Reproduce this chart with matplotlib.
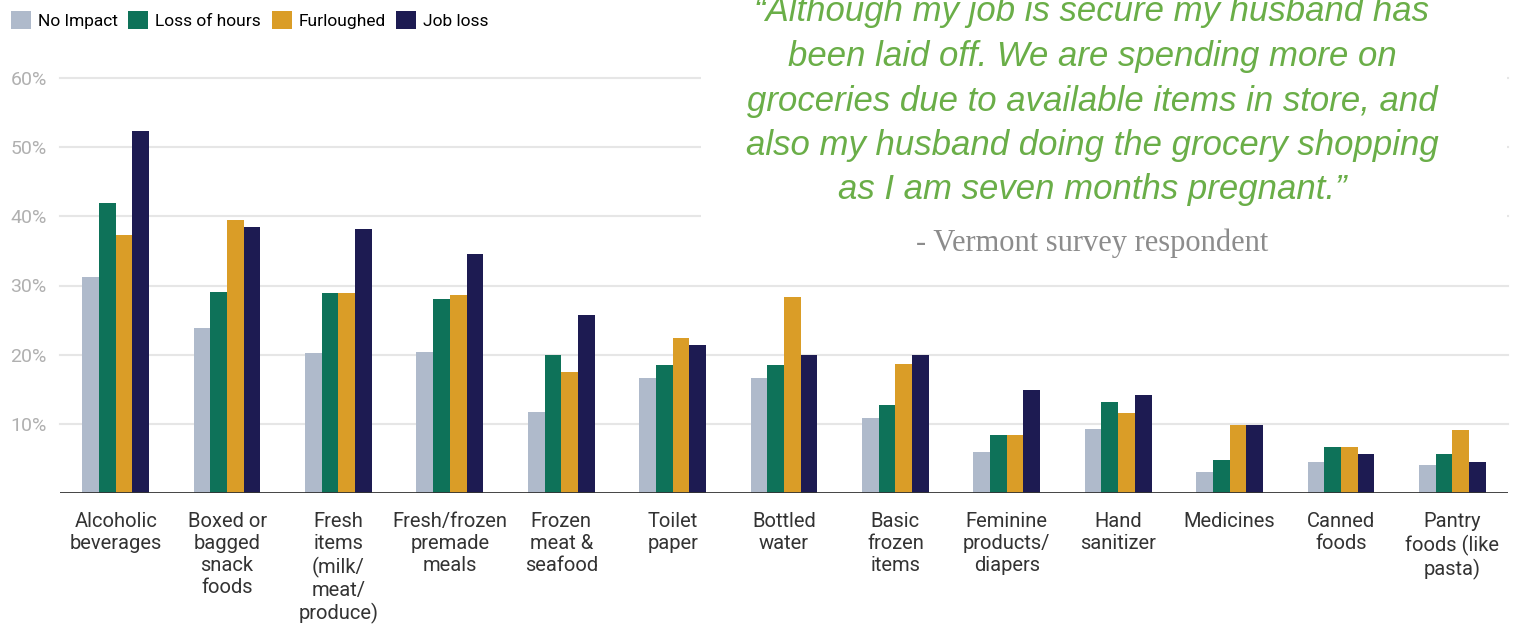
"""
Grouped bar chart: grocery spending increases by employment impact,
with a respondent quote laid over the upper right of the plot.
"""

import matplotlib.pyplot as plt
import numpy as np
from matplotlib.patches import Patch, Rectangle


categories = [
    "Alcoholic\nbeverages",
    "Boxed or\nbagged\nsnack\nfoods",
    "Fresh\nitems\n(milk/\nmeat/\nproduce)",
    "Fresh/frozen\npremade\nmeals",
    "Frozen\nmeat &\nseafood",
    "Toilet\npaper",
    "Bottled\nwater",
    "Basic\nfrozen\nitems",
    "Feminine\nproducts/\ndiapers",
    "Hand\nsanitizer",
    "Medicines",
    "Canned\nfoods",
    "Pantry\nfoods (like\npasta)",
]

series_names = ["No Impact", "Loss of hours", "Furloughed", "Job loss"]

no_impact = [31.2, 23.8, 20.2, 20.4, 11.7, 16.6, 16.6, 10.8, 6.0, 9.3, 3.1, 4.5, 4.0]
loss_of_hours = [41.9, 29.1, 28.9, 28.1, 19.9, 18.5, 18.5, 12.7, 8.4, 13.2, 4.8, 6.7, 5.7]
furloughed = [37.3, 39.4, 28.9, 28.6, 17.5, 22.4, 28.4, 18.7, 8.4, 11.5, 9.8, 6.7, 9.1]
job_loss = [52.3, 38.5, 38.2, 34.6, 25.7, 21.4, 19.9, 19.9, 14.9, 14.2, 9.8, 5.7, 4.5]

y_ticks = [10, 20, 30, 40, 50, 60]

quote_lines = [
    "\u201cAlthough my job is secure my husband has",
    "been laid off. We are spending more on",
    "groceries due to available items in store, and",
    "also my husband doing the grocery shopping",
    "as I am seven months pregnant.\u201d",
]
attribution = "- Vermont survey respondent"

colors = ["#AFBACB", "#0E7259", "#DA9D27", "#1D1B52"]

W, H = 1518, 628
fig = plt.figure(figsize=(W / 100, H / 100), dpi=100)
plt.rcParams["font.family"] = ["Roboto", "DejaVu Sans"]

ax = fig.add_axes([60 / W, 1 - 493 / H, 1448 / W, (493 - 78) / H])

x = np.arange(len(categories))
bar_w = 0.15
for i, (vals, col) in enumerate(zip([no_impact, loss_of_hours, furloughed, job_loss], colors)):
    ax.bar(x + (i - 1.5) * bar_w, vals, width=bar_w, color=col, zorder=3)

ax.set_xlim(-0.5, len(categories) - 0.5)
ax.set_ylim(0, 60)
ax.set_yticks(y_ticks)
ax.set_yticklabels([f"{t}%" for t in y_ticks], color="#B0B0B0", fontsize=14)
for t in y_ticks:
    ax.axhline(t, color="#E6E6E6", lw=1.5, zorder=1, clip_on=False)
ax.axhline(0, color="#333333", lw=2, zorder=4)

ax.set_xticks(x)
ax.set_xticklabels(categories, fontsize=14.5, color="#333333", linespacing=1.2, va="top")
ax.tick_params(axis="x", length=0, pad=14)
ax.tick_params(axis="y", length=0, pad=9.5)
for s in ax.spines.values():
    s.set_visible(False)

# white panel behind the quote hides gridlines
fig.patches.append(Rectangle((701 / W, 1 - 268 / H), (1507 - 701) / W, 268 / H,
                             transform=fig.transFigure, facecolor="white",
                             edgecolor="none", zorder=5))

for i, line in enumerate(quote_lines):
    fig.text(1092 / W, 1 - (12 + 44.5 * i) / H, line, ha="center", va="center",
             fontsize=25, style="italic", color="#6AAE48",
             family=["Liberation Sans", "DejaVu Sans"], zorder=6)

fig.text(1092 / W, 1 - 243 / H, attribution, ha="center", va="center",
         fontsize=22, color="#8C8C8C", family=["Liberation Serif", "DejaVu Serif"], zorder=6)

handles = [Patch(facecolor=c, edgecolor="none") for c in colors]
fig.legend(handles, series_names, loc="upper left", bbox_to_anchor=(0.0, 1.0),
           ncol=4, frameon=False, fontsize=12.5, handlelength=1.15, handleheight=1.15,
           handletextpad=0.4, columnspacing=0.6, borderaxespad=0.25)

fig.savefig("out.png", dpi=100)
